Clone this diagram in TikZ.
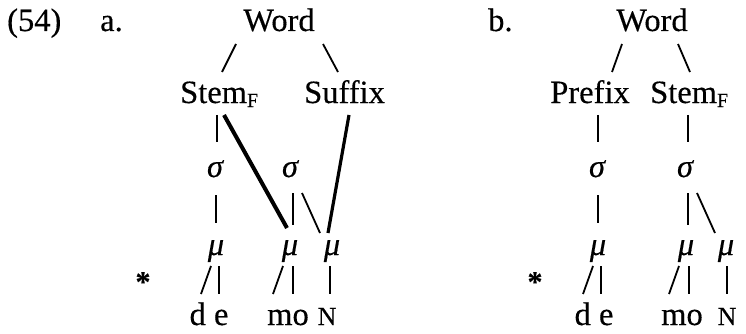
\documentclass[tikz,border=0pt]{standalone}
\usepackage{fontspec}
\setmainfont{Liberation Serif}[FakeBold=0.35]
\newcommand{\subF}{\raisebox{-4pt}{\fontsize{20}{20}\selectfont F}}
\begin{document}
\begin{tikzpicture}[x=1pt,y=-1pt,
  every node/.style={inner sep=0pt, anchor=base},
  lbl/.style={font=\fontsize{32.5}{36}\selectfont},
  gr/.style={font=\fontsize{32.5}{36}\selectfont\itshape},
  ast/.style={font=\fontsize{30}{32}\selectfont\bfseries, anchor=center},
  nsc/.style={font=\fontsize{26}{28}\selectfont},
  tln/.style={line width=2.2pt},
  thn/.style={line width=1.8pt},
  thk/.style={line width=4pt}]
\useasboundingbox (0,0) rectangle (746,334);
% ---------- tree a ----------
\node[lbl, anchor=base west] (ex) at (7,31) {(54)};
\node[lbl, anchor=base west] (la) at (100,31) {a.};
\node[lbl] (wa) at (279,31) {Word};
\node[lbl, anchor=base west] (sa) at (180,103) {Stem\subF};
\node[lbl, anchor=base west] (xa) at (304,103) {Suffix};
\node[gr] (s1a) at (215,177) {σ};
\node[gr] (s2a) at (290,177) {σ};
\node[gr] (m1a) at (216,255) {μ};
\node[gr] (m2a) at (290,255) {μ};
\node[gr] (m3a) at (332,255) {μ};
\node[ast] (sta) at (143,282) {*};
\node[lbl] (dea) at (209,325) {d e};
\node[lbl] (moa) at (288,325) {mo};
\node[nsc] (na) at (327,325) {N};
% coordinates
\coordinate (a1) at (236,44); \coordinate (a2) at (222,72);
\coordinate (a3) at (323,44); \coordinate (a4) at (338,72);
\coordinate (a5) at (217,115); \coordinate (a6) at (217,142);
\coordinate (a7) at (224,115); \coordinate (a8) at (287,228);
\coordinate (a9) at (349,115); \coordinate (a10) at (328,233);
\coordinate (a11) at (216,195); \coordinate (a12) at (216,223);
\coordinate (a13) at (293,193); \coordinate (a14) at (293,225);
\coordinate (a15) at (302,193); \coordinate (a16) at (320,233);
\coordinate (a17) at (211,266); \coordinate (a18) at (201,294);
\coordinate (a19) at (219,266); \coordinate (a20) at (219,294);
\coordinate (a21) at (283,266); \coordinate (a22) at (273,294);
\coordinate (a23) at (293,266); \coordinate (a24) at (293,294);
\coordinate (a25) at (330,266); \coordinate (a26) at (330,294);
\draw[thn] (a1) -- (a2);
\draw[thn] (a3) -- (a4);
\draw[tln] (a5) -- (a6);
\draw[thk] (a7) -- (a8);
\draw[thk, line width=3.2pt] (a9) -- (a10);
\draw[tln] (a11) -- (a12);
\draw[tln] (a13) -- (a14);
\draw[thn] (a15) -- (a16);
\draw[thn] (a17) -- (a18);
\draw[tln] (a19) -- (a20);
\draw[thn] (a21) -- (a22);
\draw[tln] (a23) -- (a24);
\draw[tln] (a25) -- (a26);
% ---------- tree b ----------
\node[lbl, anchor=base west] (lb) at (488,31) {b.};
\node[lbl] (wb) at (652,31) {Word};
\node[lbl] (pb) at (590,103) {Prefix};
\node[lbl, anchor=base west] (sb) at (650,103) {Stem\subF};
\node[gr] (s1b) at (597,177) {σ};
\node[gr] (s2b) at (685,177) {σ};
\node[gr] (m1b) at (598,255) {μ};
\node[gr] (m2b) at (686,255) {μ};
\node[gr] (m3b) at (726,255) {μ};
\node[ast] (stb) at (535,282) {*};
\node[lbl] (deb) at (594,325) {d e};
\node[lbl] (mob) at (682,325) {mo};
\node[nsc] (nb) at (727,325) {N};
\coordinate (b1) at (622,44); \coordinate (b2) at (612,72);
\coordinate (b3) at (678,44); \coordinate (b4) at (690,72);
\coordinate (b5) at (598,115); \coordinate (b6) at (598,142);
\coordinate (b7) at (688,115); \coordinate (b8) at (688,142);
\coordinate (b11) at (598,195); \coordinate (b12) at (598,223);
\coordinate (b13) at (688,193); \coordinate (b14) at (688,225);
\coordinate (b15) at (697,193); \coordinate (b16) at (715,233);
\coordinate (b17) at (593,266); \coordinate (b18) at (583,294);
\coordinate (b19) at (601,266); \coordinate (b20) at (601,294);
\coordinate (b21) at (679,266); \coordinate (b22) at (669,294);
\coordinate (b23) at (689,266); \coordinate (b24) at (689,294);
\coordinate (b25) at (727,266); \coordinate (b26) at (727,294);
\draw[thn] (b1) -- (b2);
\draw[thn] (b3) -- (b4);
\draw[tln] (b5) -- (b6);
\draw[tln] (b7) -- (b8);
\draw[tln] (b11) -- (b12);
\draw[tln] (b13) -- (b14);
\draw[thn] (b15) -- (b16);
\draw[thn] (b17) -- (b18);
\draw[tln] (b19) -- (b20);
\draw[thn] (b21) -- (b22);
\draw[tln] (b23) -- (b24);
\draw[tln] (b25) -- (b26);
\end{tikzpicture}
\end{document}
